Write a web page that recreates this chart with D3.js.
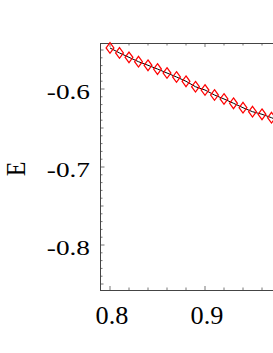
<!DOCTYPE html>
<html><head><meta charset="utf-8">
<script src="https://cdn.jsdelivr.net/npm/d3@7"></script>
<style>html,body{margin:0;padding:0;background:#fff;overflow:hidden}</style>
</head><body>
<script>
const xValues = [0.80,0.81,0.82,0.83,0.84,0.85,0.86,0.87,0.88,0.89,0.90,0.91,0.92,0.93,0.94,0.95,0.96,0.97,0.98];
const eValues = [-0.5474,-0.5538,-0.5594,-0.5650,-0.5696,-0.5744,-0.5795,-0.5846,-0.5901,-0.5971,-0.6013,-0.6077,-0.6128,-0.6183,-0.6240,-0.6291,-0.6324,-0.6368,-0.6420];
const xTickLabels = [0.8, 0.9];
const yTickLabels = [-0.6, -0.7, -0.8];
const yLabel = "E";

(function(){
const W = 273, H = 353;
const pL = 100, pT = 43, pR = 300, pB = 290;
const svg = d3.select("body").append("svg").attr("width", W).attr("height", H);
const x = d3.scaleLinear().domain([0.8, 0.9]).range([110, 205]);
const y = d3.scaleLinear().domain([-0.6, -0.8]).range([89, 245]);
const xMin = x.invert(pL), xMax = x.invert(pR);
const yMax = y.invert(pT), yMin = y.invert(pB);

const font = "Liberation Serif";
const tickColor = "#777";

const g = svg.append("g");
const xt = d3.range(0.78, 1.001, 0.02).map(v => +v.toFixed(2)).filter(v => v >= xMin && v <= xMax);
xt.forEach(v => {
  const major = Math.abs(v*10 - Math.round(v*10)) < 1e-6;
  const len = major ? 4 : 2.5;
  g.append("line").attr("x1", x(v)).attr("x2", x(v)).attr("y1", pB).attr("y2", pB - len)
    .attr("stroke", tickColor).attr("stroke-width", 1);
  g.append("line").attr("x1", x(v)).attr("x2", x(v)).attr("y1", pT).attr("y2", pT + len)
    .attr("stroke", tickColor).attr("stroke-width", 1);
});
const yt = d3.range(-0.85, -0.539, 0.01).map(v => +v.toFixed(2)).filter(v => v >= yMin && v <= yMax);
yt.forEach(v => {
  const r = Math.round(v*100);
  const len = (r % 10 === 0) ? 4.5 : (r % 5 === 0 ? 3.5 : 2.5);
  g.append("line").attr("x1", pL).attr("x2", pL + len).attr("y1", y(v)).attr("y2", y(v))
    .attr("stroke", tickColor).attr("stroke-width", 1);
});

svg.append("rect").attr("x", pL + 0.5).attr("y", pT + 0.5).attr("width", pR - pL).attr("height", pB - pT)
  .attr("fill", "none").attr("stroke", "#444").attr("stroke-width", 1);

const line = d3.line().x((d, i) => x(xValues[i])).y(d => y(d));
svg.append("path").datum(eValues).attr("d", line).attr("fill", "none").attr("stroke", "#000").attr("stroke-width", 1);

const hw = 3.9, hh = 5.3;
svg.append("g").selectAll("path").data(eValues).join("path")
  .attr("d", (d, i) => {
    const cx = x(xValues[i]), cy = y(d);
    return `M${cx},${cy-hh}L${cx+hw},${cy}L${cx},${cy+hh}L${cx-hw},${cy}Z`;
  })
  .attr("fill", "none").attr("stroke", "#f00").attr("stroke-width", 1.25);

xTickLabels.forEach(v => {
  svg.append("text").attr("transform", `translate(${x(v)+2},324) scale(1.05,1)`)
    .attr("text-anchor", "middle").style("font-family", font).attr("font-size", 25).attr("fill", "#000")
    .text(d3.format(".1f")(v));
});
yTickLabels.forEach(v => {
  svg.append("text").attr("transform", `translate(90,${y(v)+9.5}) scale(1.3,1)`)
    .attr("text-anchor", "end").style("font-family", font).attr("font-size", 21).attr("fill", "#000")
    .text(d3.format(".1f")(v).replace("\u2212", "-"));
});
svg.append("text").attr("transform", `translate(15,169) scale(1.15,1) rotate(-90)`)
  .attr("text-anchor", "middle").attr("dy", "0.35em")
  .style("font-family", font).attr("font-size", 24).attr("fill", "#000").text(yLabel);
})();
</script>
</body></html>
